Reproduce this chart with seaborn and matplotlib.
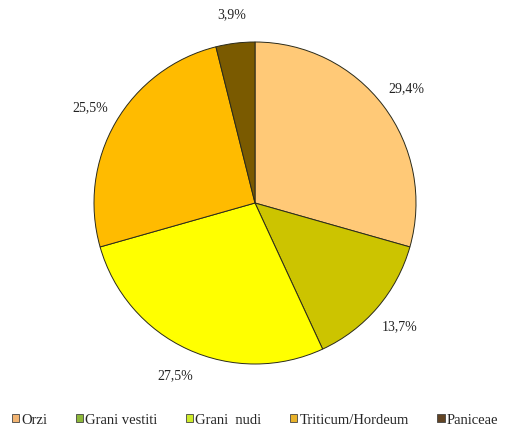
import matplotlib
matplotlib.use("Agg")
import matplotlib.pyplot as plt
import seaborn as sns
from matplotlib.patches import Patch

categories = ["Orzi", "Grani vestiti", "Grani  nudi", "Triticum/Hordeum", "Paniceae"]
values = [29.4, 13.7, 27.5, 25.5, 3.9]
labels = ["29,4%", "13,7%", "27,5%", "25,5%", "3,9%"]
colors = ["#FFC977", "#CCC400", "#FFFF00", "#FFBB00", "#7A5A00"]
legend_colors = ["#F2B472", "#8DB83A", "#CDEB2A", "#E8B22A", "#624424"]

sns.set_theme(style="white")
plt.rcParams["font.family"] = ["Liberation Serif", "DejaVu Serif"]

W, H = 506, 433
fig = plt.figure(figsize=(W / 100, H / 100), dpi=100)
fig.patch.set_facecolor("white")

cx, cy, r = 255, 203, 161
ax = fig.add_axes([(cx - r) / W, (H - cy - r) / H, 2 * r / W, 2 * r / H])

wedges, texts = ax.pie(
    values,
    labels=labels,
    colors=colors,
    startangle=90,
    counterclock=False,
    labeldistance=1.18,
    wedgeprops=dict(edgecolor="#2a2a1a", linewidth=0.7),
    textprops=dict(fontsize=10, color="#222222", ha="center", va="center"),
)
ax.set_xlim(-1, 1)
ax.set_ylim(-1, 1)
ax.set_aspect("equal")
ax.axis("off")

handles = [Patch(facecolor=c, edgecolor="#444444", linewidth=0.6) for c in legend_colors]
fig.legend(
    handles, categories,
    loc="center", bbox_to_anchor=(255 / W, 1 - 420 / H),
    ncol=5, frameon=False, fontsize=10.5,
    handlelength=0.5, handleheight=0.5, handletextpad=0.15,
    columnspacing=1.95, borderpad=0, borderaxespad=0,
)

fig.savefig("out.png", dpi=100, facecolor="white")
